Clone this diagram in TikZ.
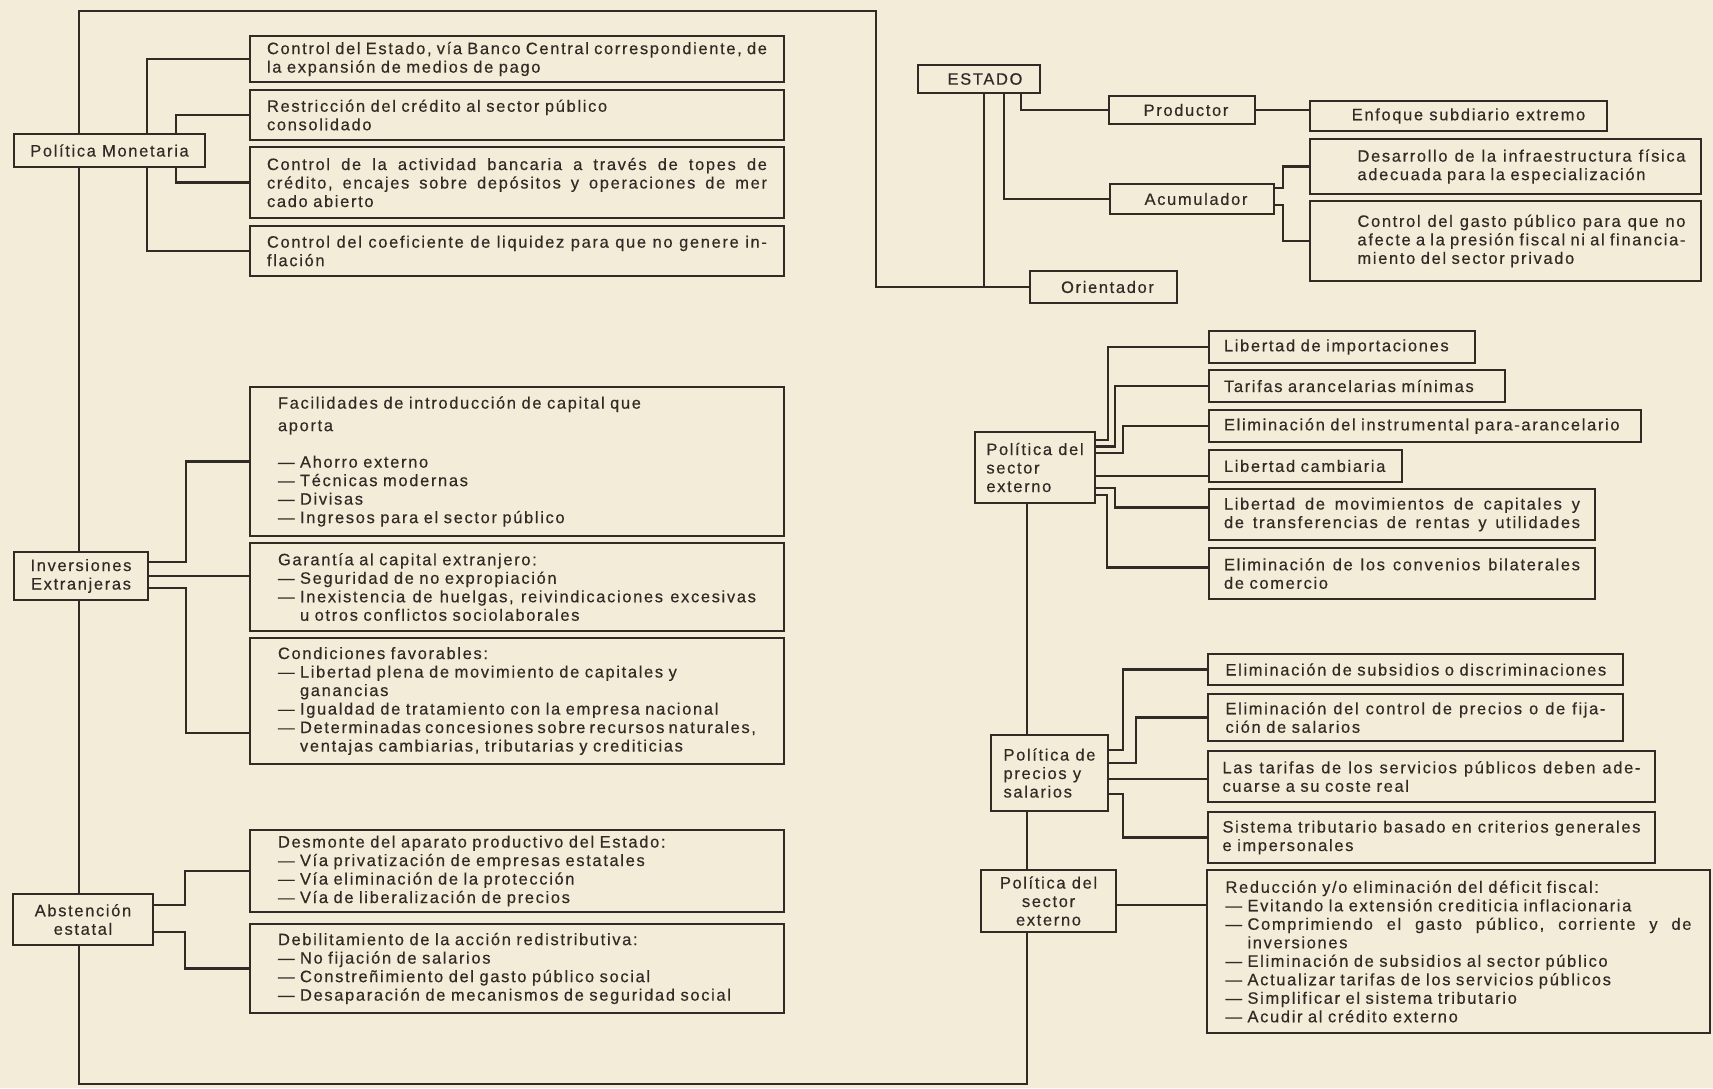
\documentclass[tikz,border=0pt]{standalone}
\usepackage{fontspec}
\setmainfont{Liberation Sans}[LetterSpace=10,FakeBold=0.4]
\definecolor{paper}{RGB}{243,236,217}
\definecolor{ink}{RGB}{48,43,36}
\newcommand\fs{\fontsize{16.5}{18.5}\selectfont}
\newlength\lpad
\def\curtw{100pt}
\makeatletter
\def\jl@loop#1 #2\jl@end{#1\ifx\relax#2\relax\else\hskip .2em plus 1fil\relax\jl@loop#2\jl@end\fi}
\newcommand\jline[1]{\leavevmode\hskip\lpad\hbox to\dimexpr\curtw-\lpad\relax{\jl@loop#1 \jl@end}}
\makeatother
\newcommand\nline[1]{\leavevmode\hskip\lpad\hbox{#1}}
\newcommand\ind{\hphantom{— }}
\pgfdeclarelayer{back}\pgfdeclarelayer{wires}
\pgfsetlayers{back,wires,main}
\tikzset{
  bx/.style={draw=ink, line width=2pt, fill=paper, text=ink, font=\fs, inner sep=0pt, align=center},
  tw/.style={text width=#1, align=left, /utils/exec={\def\curtw{#1}}},
  lp/.code={\setlength\lpad{#1}},
  ln/.style={draw=ink, line width=2.2pt},
}
\begin{document}
\begin{tikzpicture}[x=1pt,y=-1pt]
\begin{pgfonlayer}{back}
\fill[paper] (0,0) rectangle (1713,1088);
\end{pgfonlayer}
\useasboundingbox (0,0) rectangle (1713,1088);

% ---------- left column ----------
\node[bx, minimum width=191pt, minimum height=33pt] (PM) at (109.5,150.5) {Política Monetaria};
\node[bx, minimum width=534pt, minimum height=46pt, tw=500pt] (A1) at (517,59)
 {\jline{Control del Estado, vía Banco Central correspondiente, de}\\\nline{la expansión de medios de pago}};
\node[bx, minimum width=534pt, minimum height=50pt, tw=500pt] (A2) at (517,115)
 {\nline{Restricción del crédito al sector público}\\\nline{consolidado}};
\node[bx, minimum width=534pt, minimum height=71pt, tw=500pt] (A3) at (517,182.5)
 {\jline{Control de la actividad bancaria a través de topes de}\\\jline{crédito, encajes sobre depósitos y operaciones de mer}\\\nline{cado abierto}};
\node[bx, minimum width=534pt, minimum height=50pt, tw=500pt] (A4) at (517,251)
 {\jline{Control del coeficiente de liquidez para que no genere in-}\\\nline{flación}};

\node[bx, minimum width=134pt, minimum height=48pt] (IE) at (81,576) {Inversiones\\Extranjeras};
\node[bx, minimum width=534pt, minimum height=149pt, tw=478pt] (B1) at (517,461.5)
 {\nline{Facilidades de introducción de capital que}\\[4pt]\nline{aporta}\\[18pt]\nline{— Ahorro externo}\\\nline{— Técnicas modernas}\\\nline{— Divisas}\\\nline{— Ingresos para el sector público}};
\node[bx, minimum width=534pt, minimum height=88pt, tw=478pt] (B2) at (517,587)
 {\nline{Garantía al capital extranjero:}\\\nline{— Seguridad de no expropiación}\\\jline{—~Inexistencia de huelgas, reivindicaciones excesivas}\\\nline{\ind u otros conflictos sociolaborales}};
\node[bx, minimum width=534pt, minimum height=126pt, tw=478pt] (B3) at (517,701)
 {\nline{Condiciones favorables:}\\\nline{— Libertad plena de movimiento de capitales y}\\\nline{\ind ganancias}\\\nline{— Igualdad de tratamiento con la empresa nacional}\\\jline{—~Determinadas concesiones sobre recursos naturales,}\\\nline{\ind ventajas cambiarias, tributarias y crediticias}};

\node[bx, minimum width=140pt, minimum height=51pt] (AE) at (83,919.5) {Abstención\\estatal};
\node[bx, minimum width=534pt, minimum height=82pt, tw=478pt] (C1) at (517,871)
 {\nline{Desmonte del aparato productivo del Estado:}\\\nline{— Vía privatización de empresas estatales}\\\nline{— Vía eliminación de la protección}\\\nline{— Vía de liberalización de precios}};
\node[bx, minimum width=534pt, minimum height=89pt, tw=478pt] (C2) at (517,968.5)
 {\nline{Debilitamiento de la acción redistributiva:}\\\nline{— No fijación de salarios}\\\nline{— Constreñimiento del gasto público social}\\\nline{— Desaparación de mecanismos de seguridad social}};

% ---------- top right ----------
\node[bx, minimum width=122pt, minimum height=28pt] (EST) at (979,79) {\hspace*{12pt}ESTADO};
\node[bx, minimum width=146pt, minimum height=28pt] (PRO) at (1182,110) {\hspace*{8pt}Productor};
\node[bx, minimum width=297pt, minimum height=30pt] (ENF) at (1458.5,116) {\hspace*{20pt}Enfoque subdiario extremo};
\node[bx, minimum width=164pt, minimum height=30pt] (ACU) at (1192,199) {\hspace*{8pt}Acumulador};
\node[bx, minimum width=391pt, minimum height=55pt, tw=360pt, lp=32pt] (DES) at (1505.5,166.5)
 {\jline{Desarrollo de la infraestructura física}\\\nline{adecuada para la especialización}};
\node[bx, minimum width=391pt, minimum height=80pt, tw=360pt, lp=32pt] (CGP) at (1505.5,241)
 {\jline{Control del gasto público para que no}\\\jline{afecte a la presión fiscal ni al financia-}\\\nline{miento del sector privado}};
\node[bx, minimum width=147pt, minimum height=32pt] (ORI) at (1103.5,287) {\hspace*{8pt}Orientador};

% ---------- sector externo ----------
\node[bx, minimum width=120pt, minimum height=71pt, align=left] (PSE) at (1035,467.5) {Política del\\sector\\externo};
\node[bx, minimum width=266pt, minimum height=32pt, tw=236pt] (D1) at (1342,347) {\nline{Libertad de importaciones}};
\node[bx, minimum width=296pt, minimum height=32pt, tw=266pt] (D2) at (1357,386) {\nline{Tarifas arancelarias mínimas}};
\node[bx, minimum width=432pt, minimum height=32pt, tw=402pt] (D3) at (1425,426) {\nline{Eliminación del instrumental para-arancelario}};
\node[bx, minimum width=193pt, minimum height=32pt, tw=163pt] (D4) at (1305.5,466) {\nline{Libertad cambiaria}};
\node[bx, minimum width=386pt, minimum height=51pt, tw=356pt] (D5) at (1402,514.5)
 {\jline{Libertad de movimientos de capitales y}\\\jline{de transferencias de rentas y utilidades}};
\node[bx, minimum width=386pt, minimum height=51pt, tw=356pt] (D6) at (1402,573.5)
 {\jline{Eliminación de los convenios bilaterales}\\\nline{de comercio}};

% ---------- precios y salarios ----------
\node[bx, minimum width=117pt, minimum height=76pt, align=left] (PPS) at (1049.5,773) {Política de\\precios y\\salarios};
\node[bx, minimum width=415pt, minimum height=31pt, tw=380pt] (E1) at (1415.5,669.5) {\nline{Eliminación de subsidios o discriminaciones}};
\node[bx, minimum width=415pt, minimum height=47pt, tw=380pt] (E2) at (1415.5,717.5)
 {\jline{Eliminación del control de precios o de fija-}\\\nline{ción de salarios}};
\node[bx, minimum width=447pt, minimum height=51pt, tw=418pt] (E3) at (1431.5,776.5)
 {\jline{Las tarifas de los servicios públicos deben ade-}\\\nline{cuarse a su coste real}};
\node[bx, minimum width=447pt, minimum height=51pt, tw=418pt] (E4) at (1431.5,837.5)
 {\jline{Sistema tributario basado en criterios generales}\\\nline{e impersonales}};

% ---------- sector externo (2) ----------
\node[bx, minimum width=135pt, minimum height=62pt] (PSF) at (1048.5,901) {Política del\\sector\\externo};
\node[bx, minimum width=503pt, minimum height=163pt, tw=466pt] (FIS) at (1458.5,951.5)
 {\nline{Reducción y/o eliminación del déficit fiscal:}\\\nline{— Evitando la extensión crediticia inflacionaria}\\\jline{—~Comprimiendo el gasto público, corriente y de}\\\nline{\ind inversiones}\\\nline{— Eliminación de subsidios al sector público}\\\nline{— Actualizar tarifas de los servicios públicos}\\\nline{— Simplificar el sistema tributario}\\\nline{— Acudir al crédito externo}};

% ---------- connectors ----------
\begin{pgfonlayer}{wires}
% main loop
\draw[ln] (ORI.west) -- ++(-153,0) -- ++(0,-276) -- ++(-797,0) -- ++(0,1073) -| ([xshift=-8pt]PSE.south);
\draw[ln] ([xshift=5pt]EST.south) -- ([xshift=5pt]EST.south |- ORI.west);
\draw[ln] ([xshift=42pt]EST.south) |- (PRO.west);
\draw[ln] ([xshift=25pt]EST.south) |- (ACU.west);
\draw[ln] (PRO.east) -- (PRO.east -| ENF.west);
\draw[ln] ([yshift=11pt]ACU.east) -- ++(8,0) |- (DES.west);
\draw[ln] ([yshift=-6pt]ACU.east) -- ++(8,0) |- (CGP.west);
% politica monetaria
\draw[ln] (A1.west) -- ++(-102,0) |- (A4.west);
\draw[ln] (A2.west) -- ++(-73,0) |- (A3.west);
% inversiones
\draw[ln] ([yshift=14pt]IE.east) -- ++(37,0) |- (B1.west);
\draw[ln] (IE.east) -- (IE.east -| B2.west);
\draw[ln] ([yshift=-12pt]IE.east) -- ++(37,0) |- ([yshift=-32pt]B3.west);
% abstencion
\draw[ln] ([yshift=14.5pt]AE.east) -- ++(31,0) |- (C1.west);
\draw[ln] ([yshift=-12.5pt]AE.east) -- ++(31,0) |- (C2.west);
% sector externo
\draw[ln] ([yshift=27.5pt]PSE.east) -- ++(12,0) |- (D1.west);
\draw[ln] ([yshift=21pt]PSE.east) -- ++(19,0) |- (D2.west);
\draw[ln] ([yshift=14.5pt]PSE.east) -- ++(27,0) |- (D3.west);
\draw[ln] ([yshift=-8.5pt]PSE.east) -- ([yshift=-8.5pt]PSE.east -| D4.west);
\draw[ln] ([yshift=-20.5pt]PSE.east) -- ++(19,0) |- ([yshift=7pt]D5.west);
\draw[ln] ([yshift=-27.5pt]PSE.east) -- ++(11,0) |- ([yshift=6pt]D6.west);
% precios y salarios
\draw[ln] ([yshift=23pt]PPS.east) -- ++(14,0) |- (E1.west);
\draw[ln] ([yshift=10pt]PPS.east) -- ++(27,0) |- (E2.west);
\draw[ln] ([yshift=-6pt]PPS.east) -- ([yshift=-6pt]PPS.east -| E3.west);
\draw[ln] ([yshift=-21pt]PPS.east) -- ++(14,0) |- (E4.west);
% fiscal
\draw[ln] ([yshift=-4pt]PSF.east) -- ([yshift=-4pt]PSF.east -| FIS.west);
\end{pgfonlayer}
\end{tikzpicture}
\end{document}
